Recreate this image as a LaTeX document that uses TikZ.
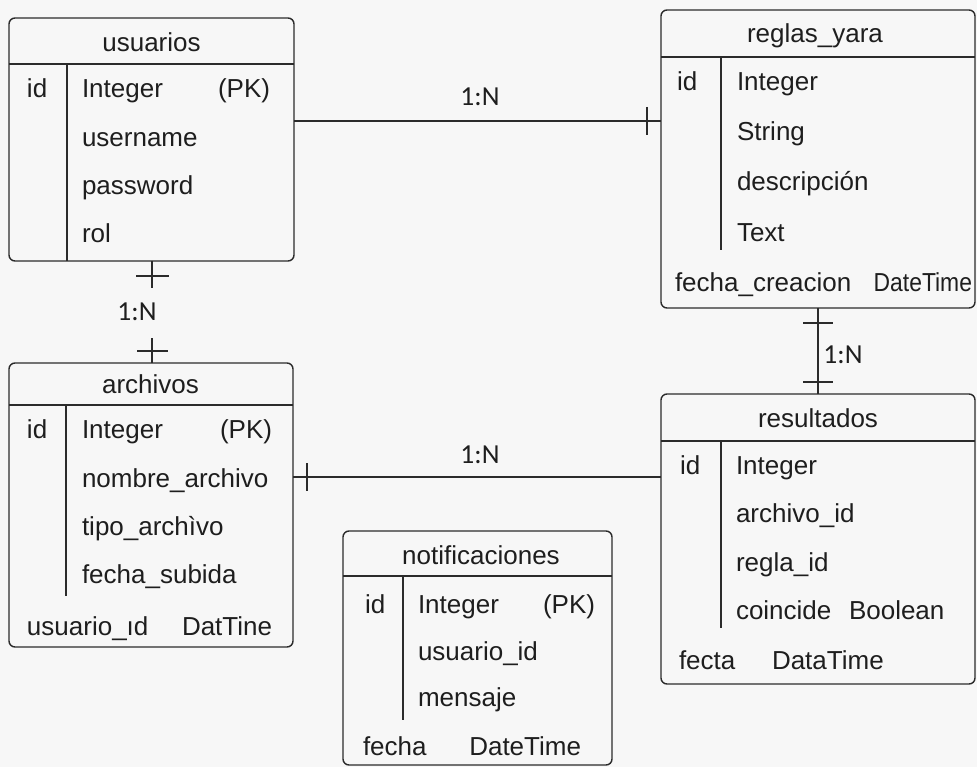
\documentclass[tikz,border=0pt]{standalone}
\usepackage{fontspec}
\setmainfont{Liberation Sans}
\newfontfamily\labfont{Carlito}
\definecolor{bgc}{HTML}{F7F7F7}
\definecolor{linec}{HTML}{2B2B2B}
\definecolor{textc}{HTML}{1E1E1E}
\begin{document}
\begin{tikzpicture}[x=1pt,y=-1pt,
  tbl/.style={draw=linec, line width=1.4pt, rounded corners=6pt, inner sep=0pt, outer sep=0pt},
  ln/.style={draw=linec, line width=1.4pt},
  txt/.style={anchor=base west, inner sep=0pt, outer sep=0pt, text=textc, font=\fontsize{26}{30}\selectfont},
  txtr/.style={txt, anchor=base east},
  hdr/.style={anchor=base, inner sep=0pt, outer sep=0pt, text=textc, font=\fontsize{26}{30}\selectfont},
  card/.style={anchor=center, inner sep=0pt, text=textc, font=\labfont\fontsize{27.5}{30}\selectfont}]

\fill[bgc] (0,0) rectangle (977,767);
\useasboundingbox (0,0) rectangle (977,767);

% ---------- usuarios ----------
\node[tbl, minimum width=285pt, minimum height=243pt] (usuarios) at (151.5,139.5) {};
\draw[ln] (usuarios.west |- 0,64) -- (usuarios.east |- 0,64);
\draw[ln] (67,64) -- (usuarios.south -| 67,0);
\node[hdr] (u-h) at (151.5,52) {usuarios};
\node[txt] (u-id) at (27,98) {id};
\node[txt] (u-r1) at (82,98) {Integer};
\node[txtr] (u-pk) at (270,98) {(PK)};
\node[txt] (u-r2) at (82,147) {username};
\node[txt] (u-r3) at (82,195) {password};
\node[txt] (u-r4) at (82,243) {rol};

% ---------- reglas_yara ----------
\node[tbl, minimum width=314pt, minimum height=298pt] (reglas) at (818,159) {};
\draw[ln] (reglas.west |- 0,57) -- (reglas.east |- 0,57);
\draw[ln] (721,57) -- (721,250);
\node[hdr] (r-h) at (815,43) {reglas\_yara};
\node[txt] (r-id) at (677,91) {id};
\node[txt] (r-r1) at (737,91) {Integer};
\node[txt] (r-r2) at (737,141) {String};
\node[txt] (r-r3) at (737,191) {descripción};
\node[txt] (r-r4) at (737,242) {Text};
\node[txt] (r-r5) at (675,292) {fecha\_creacion};
\node[txtr] (r-r5b) at (972,292) {\scalebox{0.88}[1]{DateTime}};

% ---------- archivos ----------
\node[tbl, minimum width=284pt, minimum height=284pt] (archivos) at (151,505) {};
\draw[ln] (archivos.west |- 0,405) -- (archivos.east |- 0,405);
\draw[ln] (66,405) -- (66,596);
\node[hdr] (a-h) at (150.5,393) {archivos};
\node[txt] (a-id) at (27,438) {id};
\node[txt] (a-r1) at (82,438) {Integer};
\node[txtr] (a-pk) at (272,438) {(PK)};
\node[txt] (a-r2) at (82,487) {nombre\_archivo};
\node[txt] (a-r3) at (82,535) {tipo\_archìvo};
\node[txt] (a-r4) at (82,583) {fecha\_subida};
\node[txt] (a-r5) at (27,635) {usuario\_ıd};
\node[txt] (a-r5b) at (182,635) {DatTine};

% ---------- resultados ----------
\node[tbl, minimum width=314pt, minimum height=290pt] (resultados) at (818,539) {};
\draw[ln] (resultados.west |- 0,441) -- (resultados.east |- 0,441);
\draw[ln] (721,441) -- (721,628);
\node[hdr] (s-h) at (818,427) {resultados};
\node[txt] (s-id) at (680,474) {id};
\node[txt] (s-r1) at (736,474) {Integer};
\node[txt] (s-r2) at (736,522) {archivo\_id};
\node[txt] (s-r3) at (736,571) {regla\_id};
\node[txt] (s-r4) at (736,619) {coincide};
\node[txt] (s-r4b) at (849,619) {Boolean};
\node[txt] (s-r5) at (679,669) {fecta};
\node[txt] (s-r5b) at (772,669) {DataTime};

% ---------- notificaciones ----------
\node[tbl, minimum width=269pt, minimum height=234pt] (notif) at (477.5,648) {};
\draw[ln] (notif.west |- 0,576) -- (notif.east |- 0,576);
\draw[ln] (403,576) -- (403,720);
\node[hdr] (n-h) at (481,564) {notificaciones};
\node[txt] (n-id) at (365,613) {id};
\node[txt] (n-r1) at (418,613) {Integer};
\node[txtr] (n-pk) at (595,613) {(PK)};
\node[txt] (n-r2) at (418,660) {usuario\_id};
\node[txt] (n-r3) at (418,706) {mensaje};
\node[txt] (n-r4) at (363,755) {fecha};
\node[txtr] (n-r4b) at (581,755) {DateTime};

% ---------- relationships ----------
% usuarios -- reglas_yara
\draw[ln] (usuarios.east |- 0,121) -- (reglas.west |- 0,121);
\draw[ln] (647,107) -- (647,135);
\node[card] (c1) at (480,97) {1:N};

% usuarios -- archivos (line broken around the label)
\coordinate (ua1) at (152,288);
\coordinate (ua2) at (152,338);
\draw[ln] (usuarios.south -| ua1) -- (ua1);
\draw[ln] (ua2) -- (archivos.north -| ua2);
\draw[ln] (136,276) -- (169,276);
\draw[ln] (137,351) -- (168,351);
\node[card] (c2) at (137,312) {1:N};

% archivos -- resultados
\draw[ln] (archivos.east |- 0,477) -- (resultados.west |- 0,477);
\draw[ln] (307,463) -- (307,491);
\node[card] (c3) at (480,455) {1:N};

% reglas_yara -- resultados
\draw[ln] (reglas.south -| 818,0) -- (resultados.north -| 818,0);
\draw[ln] (803,323) -- (833,323);
\draw[ln] (803,382) -- (833,382);
\node[card] (c4) at (843,355) {1:N};
\end{tikzpicture}
\end{document}
